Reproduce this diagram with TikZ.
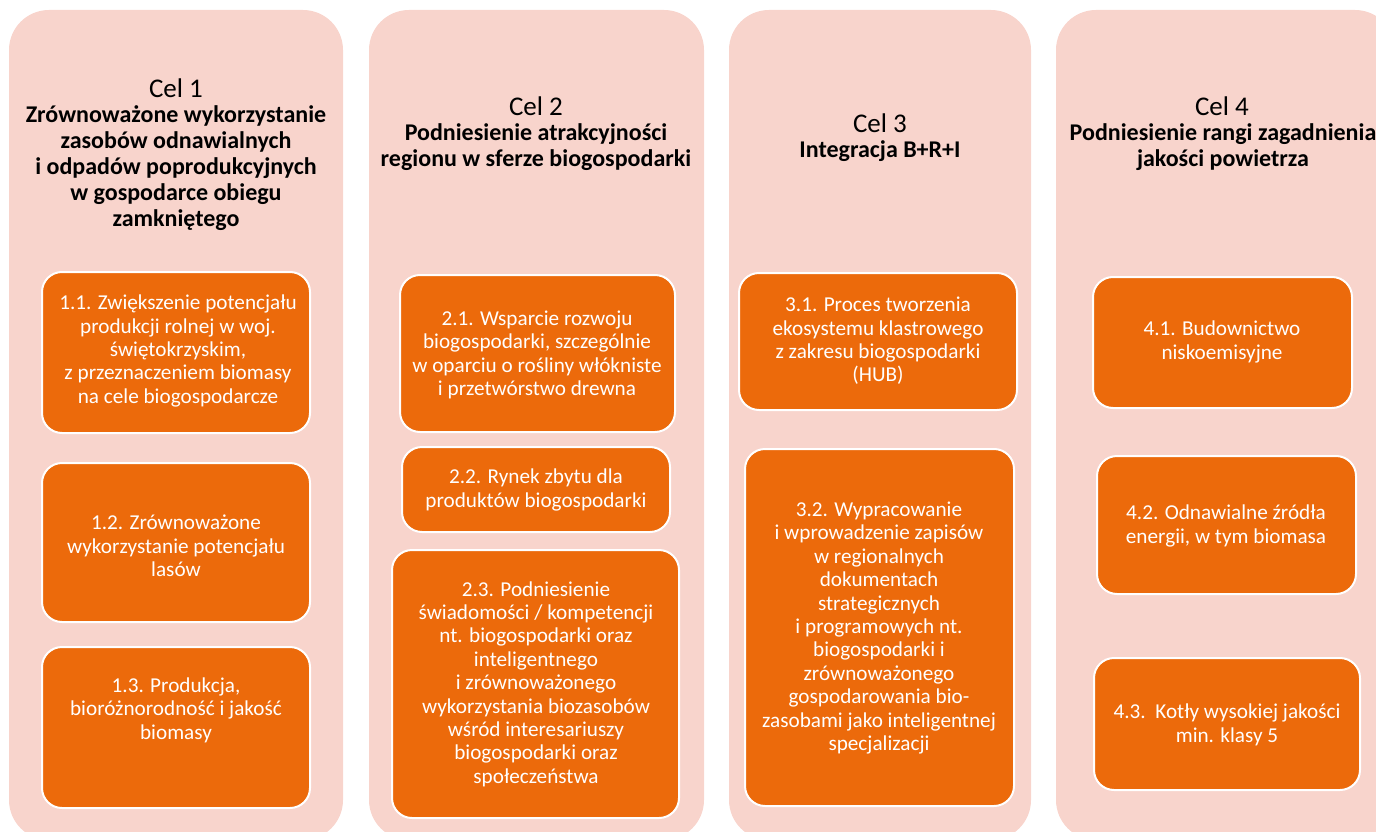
\documentclass[tikz,border=0pt]{standalone}
\usepackage{fontspec}
\setmainfont{Carlito}
\definecolor{panelpink}{HTML}{F8D4CC}
\definecolor{boxorange}{HTML}{EC6A0B}
\begin{document}
\begin{tikzpicture}[x=1pt,y=-1pt,
  panel/.style={fill=panelpink, rounded corners=40pt, draw=none},
  obox/.style={fill=boxorange, draw=white, line width=2pt, rounded corners=20pt},
  celtxt/.style={font=\fontsize{27}{32}\selectfont, text=black, inner sep=0pt},
  goaltxt/.style={font=\fontsize{24}{26}\selectfont\bfseries, text=black, align=center, inner sep=0pt},
  otxt/.style={font=\fontsize{21.2}{23.4}\selectfont, text=white, align=center, inner sep=0pt}
]
\useasboundingbox (0,0) rectangle (1376,832);
\clip (0,0) rectangle (1376,832);
% panels
\draw[panel] (9,10) rectangle (343,840);
\draw[panel] (369,10) rectangle (704,840);
\draw[panel] (729,10) rectangle (1031,840);
\draw[panel] (1056,10) rectangle (1395,840);

% panel 1
\node[celtxt] (cel1) at (176,88) {Cel 1};
\node[goaltxt] (goal1) at (176,168) {Zrównoważone wykorzystanie\\zasobów odnawialnych\\i odpadów poprodukcyjnych\\w gospodarce obiegu\\zamkniętego};
\draw[obox] (42,272) rectangle (310,433);
\node[otxt] (t11) at (178,351) {1.1. Zwiększenie potencjału\\produkcji rolnej w woj.\\świętokrzyskim,\\z przeznaczeniem biomasy\\na cele biogospodarcze};
\draw[obox] (42,463) rectangle (310,622);
\node[otxt] (t12) at (176,546) {1.2. Zrównoważone\\wykorzystanie potencjału\\lasów};
\draw[obox] (42,647) rectangle (310,808);
\node[otxt] (t13) at (176,710) {1.3. Produkcja,\\bioróżnorodność i jakość\\biomasy};

% panel 2
\node[celtxt] (cel2) at (536,106) {Cel 2};
\node[goaltxt] (goal2) at (536,147) {Podniesienie atrakcyjności\\regionu w sferze biogospodarki};
\draw[obox] (400,275) rectangle (675,432);
\node[otxt] (t21) at (537,355) {2.1. Wsparcie rozwoju\\biogospodarki, szczególnie\\w oparciu o rośliny włókniste\\i przetwórstwo drewna};
\draw[obox] (402,447) rectangle (670,532);
\node[otxt] (t22) at (536,490) {2.2. Rynek zbytu dla\\produktów biogospodarki};
\draw[obox] (392,550) rectangle (679,818);
\node[otxt] (t23) at (536,684) {2.3. Podniesienie\\świadomości / kompetencji\\nt. biogospodarki oraz\\inteligentnego\\i zrównoważonego\\wykorzystania biozasobów\\wśród interesariuszy\\biogospodarki oraz\\społeczeństwa};

% panel 3
\node[celtxt] (cel3) at (880,123) {Cel 3};
\node[goaltxt] (goal3) at (880,151) {Integracja B+R+I};
\draw[obox] (739,273) rectangle (1017,410);
\node[otxt] (t31) at (878,341) {3.1. Proces tworzenia\\ekosystemu klastrowego\\z zakresu biogospodarki\\(HUB)};
\draw[obox] (745,449) rectangle (1014,806);
\node[otxt] (t32) at (879,628) {3.2. Wypracowanie\\i wprowadzenie zapisów\\w regionalnych\\dokumentach\\strategicznych\\i programowych nt.\\biogospodarki i\\zrównoważonego\\gospodarowania bio-\\zasobami jako inteligentnej\\specjalizacji};

% panel 4
\node[celtxt] (cel4) at (1222,106) {Cel 4};
\node[goaltxt] (goal4) at (1223,147) {Podniesienie rangi zagadnienia\\jakości powietrza};
\draw[obox] (1093,277) rectangle (1352,408);
\node[otxt] (t41) at (1222,342) {4.1. Budownictwo\\niskoemisyjne};
\draw[obox] (1097,456) rectangle (1356,594);
\node[otxt] (t42) at (1226,526) {4.2. Odnawialne źródła\\energii, w tym biomasa};
\draw[obox] (1094,658) rectangle (1360,790);
\node[otxt] (t43) at (1227,725) {4.3.\ \ Kotły wysokiej jakości\\min. klasy 5};
\end{tikzpicture}
\end{document}
